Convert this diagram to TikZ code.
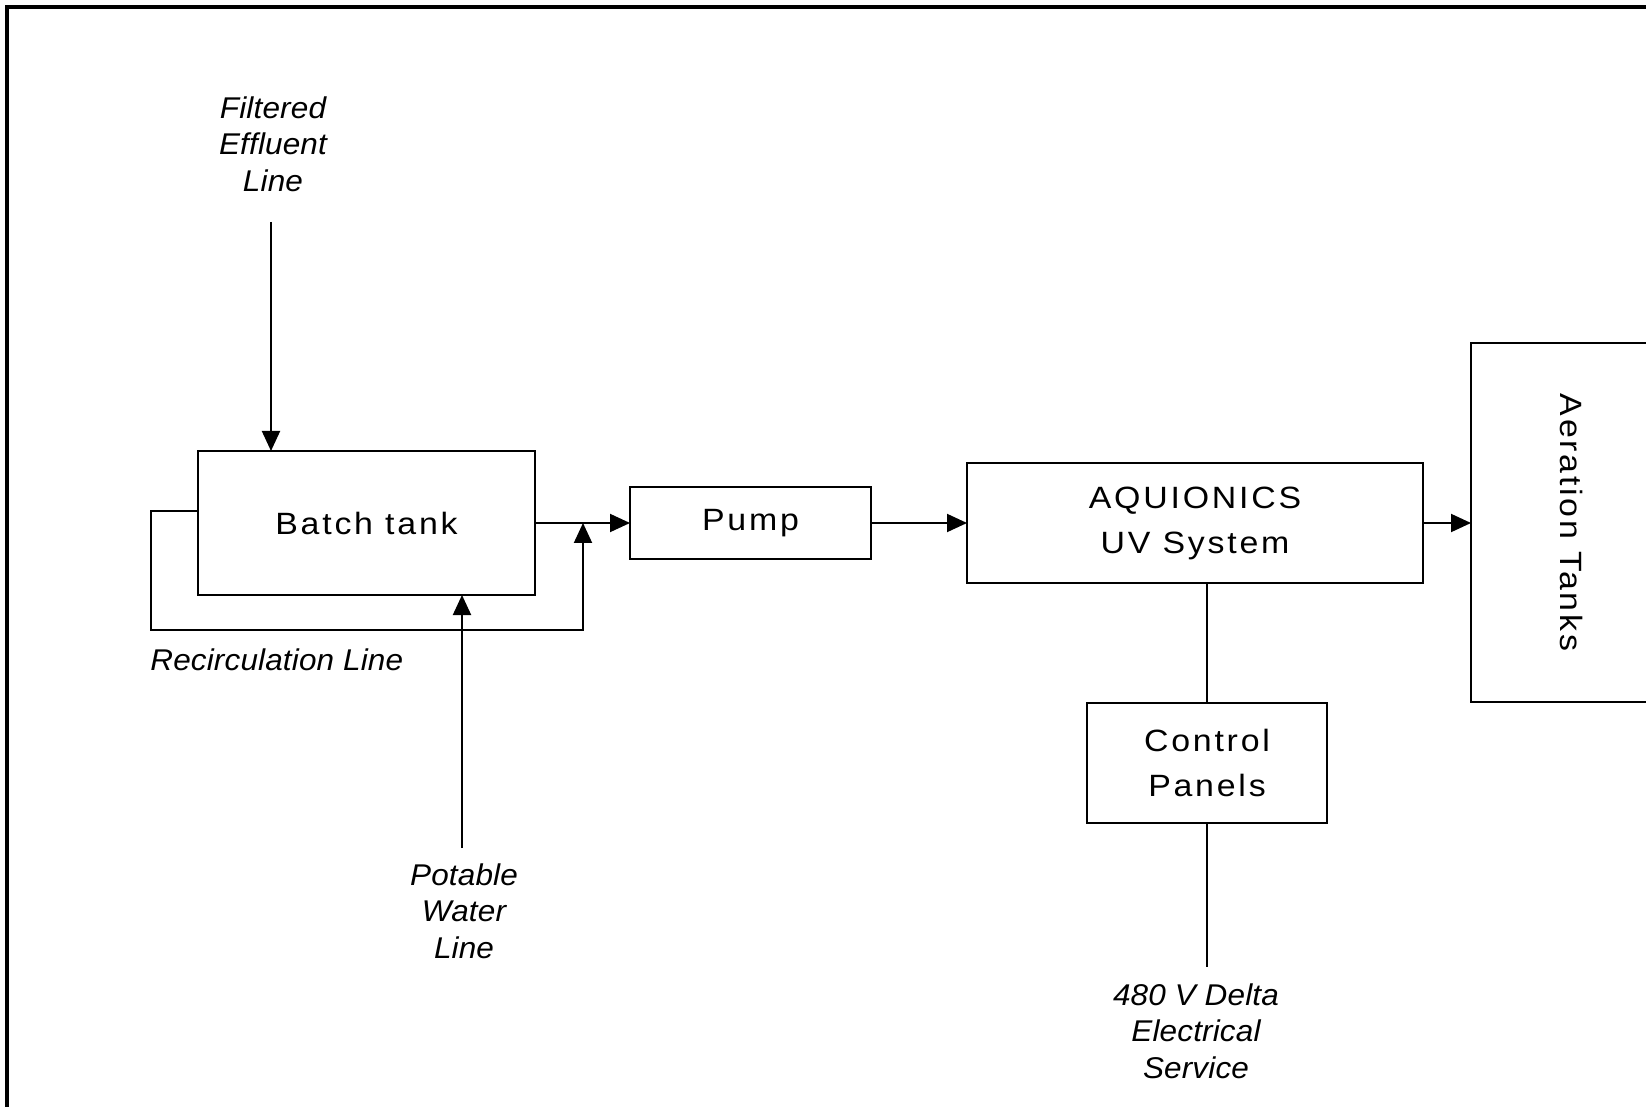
\documentclass[tikz,border=0pt]{standalone}
\usepackage{fontspec}
\setmainfont{Liberation Sans}
\newfontfamily\spacedfont[LetterSpace=9,FakeStretch=1.1]{Liberation Sans}
\newfontfamily\spaceditfont[LetterSpace=0.5,FakeStretch=1.05]{Liberation Sans Italic}
\usetikzlibrary{arrows.meta}

\begin{document}
\begin{tikzpicture}[x=0.5pt,y=-0.5pt,
  unitbox/.style={draw,line width=1pt,inner sep=0pt,outer sep=0pt,align=center,
    font=\spacedfont\fontsize{15.4pt}{22.5pt}\selectfont},
  linelabel/.style={align=center,inner sep=0pt,
    font=\spaceditfont\fontsize{15pt}{18.3pt}\selectfont},
  flow/.style={line width=1pt,-{Triangle[length=10pt,width=9pt]}},
  wire/.style={line width=1pt}]
\useasboundingbox (0,0) rectangle (1646,1107);
% outer frame
\draw[line width=1.6pt] (7,1107) -- (7,7) -- (1646,7);
% units
\node[unitbox,minimum width=168.5pt,minimum height=72pt] (batch) at (366.5,523) {Batch tank};
\node[unitbox,minimum width=120.5pt,minimum height=36pt] (pump) at (750.5,523) {Pump};
\node[unitbox,minimum width=228pt,minimum height=60pt] (uv) at (1195,523) {AQUIONICS\\UV System};
\node[unitbox,minimum width=120pt,minimum height=60pt] (ctrl) at (1207,763) {Control\\Panels};
\node[unitbox,minimum width=100pt,minimum height=179.5pt] (aer) at (1571,522.5) {\rotatebox{-90}{Aeration Tanks}};
% line labels
\node[linelabel] (filt) at (273,144) {Filtered\\Effluent\\Line};
\node[linelabel] (pot) at (464,911) {Potable\\Water\\Line};
\node[linelabel] (elec) at (1196,1031) {480 V Delta\\Electrical\\Service};
\node[linelabel,anchor=west] (recirc) at (150,660) {Recirculation Line};
\coordinate (filtin) at (271,222);
\coordinate (potin) at (462,848);
\coordinate (elecin) at (1207,967);
\coordinate (merge) at (583,523);
% connectors
\draw[flow] (filtin) -- (filtin |- batch.north);
\draw[flow] (potin) -- (potin |- batch.south);
\draw[flow] (batch.east) -- (pump.west);
\draw[flow] ([yshift=6pt]batch.west) -| (151,630) -| (merge);
\draw[flow] (pump.east) -- (uv.west);
\draw[flow] (uv.east) -- (uv.east -| aer.west);
\draw[wire] (uv.south -| ctrl.north) -- (ctrl.north);
\draw[wire] (ctrl.south) -- (elecin);
\end{tikzpicture}
\end{document}
